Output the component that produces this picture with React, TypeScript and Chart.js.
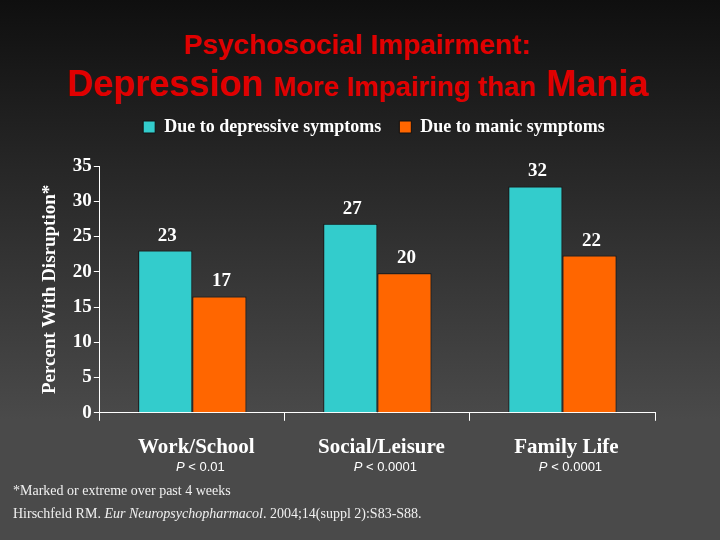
import React, { useEffect, useRef } from "react";
import { Chart, registerables } from "chart.js";

Chart.register(...registerables);

const categories = ["Work/School", "Social/Leisure", "Family Life"];
const depressive = [23, 26.8, 32.1];
const manic = [16.5, 19.8, 22.3];
const pValues = ["< 0.01", "< 0.0001", "< 0.0001"];
const seriesNames = ["Due to depressive symptoms", "Due to manic symptoms"];
const yTicks = { min: 0, max: 35, step: 5 };

const SERIF = '"Liberation Serif", "Times New Roman", serif';
const SANS = '"Liberation Sans", Arial, sans-serif';

const legendSpacer = {
  id: "legendSpacer",
  beforeLayout(chart: any) {
    const lg = chart.legend;
    if (lg && !lg._spaced) {
      const orig = lg.fit;
      lg.fit = function () {
        orig.call(this);
        this.height += 20;
      };
      lg._spaced = true;
    }
  },
  afterLayout(chart: any) {
    const lg = chart.legend;
    if (lg) {
      lg.left += 29;
      lg.right += 29;
    }
  },
};

const valueLabels = {
  id: "valueLabels",
  afterDatasetsDraw(chart: any) {
    const ctx = chart.ctx;
    ctx.save();
    ctx.font = `bold 19px ${SERIF}`;
    ctx.fillStyle = "#ffffff";
    ctx.textAlign = "center";
    ctx.textBaseline = "alphabetic";
    chart.data.datasets.forEach((ds: any, di: number) => {
      const meta = chart.getDatasetMeta(di);
      meta.data.forEach((bar: any, i: number) => {
        ctx.fillText(String(Math.round(ds.data[i])), bar.x + 2, bar.y - 10);
      });
    });
    ctx.restore();
  },
};

const pValueLabels = {
  id: "pValueLabels",
  afterDraw(chart: any) {
    const ctx = chart.ctx;
    const xs = chart.scales.x;
    const y = chart.chartArea.bottom + 55;
    ctx.save();
    ctx.fillStyle = "#ffffff";
    ctx.textBaseline = "middle";
    ctx.textAlign = "left";
    pValues.forEach((p, i) => {
      const cx = xs.getPixelForValue(i) + 8;
      ctx.font = `italic 13px ${SANS}`;
      const w1 = ctx.measureText("P").width;
      ctx.font = `13px ${SANS}`;
      const rest = " " + p;
      const w2 = ctx.measureText(rest).width;
      const start = cx - (w1 + w2) / 2;
      ctx.font = `italic 13px ${SANS}`;
      ctx.fillText("P", start, y);
      ctx.font = `13px ${SANS}`;
      ctx.fillText(rest, start + w1, y);
    });
    ctx.restore();
  },
};

export default function App() {
  const canvasRef = useRef<HTMLCanvasElement | null>(null);

  useEffect(() => {
    if (!canvasRef.current) return;
    const chart = new Chart(canvasRef.current, {
      type: "bar",
      data: {
        labels: categories,
        datasets: [
          {
            label: seriesNames[0],
            data: depressive,
            backgroundColor: "#33CCCC",
            borderColor: "#111111",
            borderWidth: 1,
          },
          {
            label: seriesNames[1],
            data: manic,
            backgroundColor: "#FF6600",
            borderColor: "#111111",
            borderWidth: 1,
          },
        ],
      },
      options: {
        responsive: false,
        animation: false,
        datasets: {
          bar: { categoryPercentage: 0.585, barPercentage: 1 },
        },
        layout: { padding: { top: 100, left: 35, right: 65, bottom: 66 } },
        plugins: {
          legend: {
            position: "top",
            labels: {
              boxWidth: 12,
              boxHeight: 12,
              padding: 18,
              color: "#ffffff",
              font: { family: SERIF, size: 18, weight: "bold" },
            },
          },
          tooltip: { enabled: false },
        },
        scales: {
          x: {
            offset: true,
            grid: {
              offset: true,
              drawOnChartArea: false,
              drawTicks: true,
              tickLength: 8,
              color: "#ffffff",
            },
            border: { color: "#ffffff", width: 1 },
            ticks: {
              color: "#ffffff",
              padding: 14,
              labelOffset: 4,
              font: { family: SERIF, size: 21, weight: "bold" },
            },
          },
          y: {
            min: yTicks.min,
            max: yTicks.max,
            ticks: {
              stepSize: yTicks.step,
              color: "#ffffff",
              padding: 2,
              font: { family: SERIF, size: 19, weight: "bold" },
            },
            grid: {
              drawOnChartArea: false,
              drawTicks: true,
              tickLength: 6,
              color: "#ffffff",
            },
            border: { color: "#ffffff", width: 1 },
            title: {
              display: true,
              text: "Percent With Disruption*",
              color: "#ffffff",
              padding: { top: 4, bottom: 9 },
              font: { family: SERIF, size: 19, weight: "bold" },
            },
          },
        },
      },
      plugins: [legendSpacer, valueLabels, pValueLabels],
    } as any);
    return () => chart.destroy();
  }, []);

  return (
    <div
      style={{
        position: "fixed",
        left: 0,
        top: 0,
        width: 720,
        height: 540,
        overflow: "hidden",
        background:
          "linear-gradient(to bottom, #0f0f0f 0px, #4a4a4a 420px, #4a4a4a 540px)",
      }}
    >
      <div
        style={{
          position: "absolute",
          left: 0,
          top: 31,
          width: 714,
          textAlign: "center",
          fontFamily: SANS,
          fontWeight: "bold",
          fontSize: 28,
          lineHeight: "28px",
          color: "#e00000",
          whiteSpace: "nowrap",
        }}
      >
        Psychosocial Impairment:
      </div>
      <div
        style={{
          position: "absolute",
          left: 0,
          top: 64,
          width: 715,
          textAlign: "center",
          fontFamily: SANS,
          fontWeight: "bold",
          fontSize: 36,
          lineHeight: "40px",
          color: "#e00000",
          whiteSpace: "nowrap",
        }}
      >
        Depression <span style={{ fontSize: 27.5 }}>More Impairing than</span> Mania
      </div>
      <canvas
        ref={canvasRef}
        width={720}
        height={540}
        style={{ position: "absolute", left: 0, top: 0, width: 720, height: 540 }}
      />
      <div
        style={{
          position: "absolute",
          left: 13,
          top: 479,
          fontFamily: SERIF,
          fontSize: 14,
          lineHeight: "23px",
          color: "#f0f0f0",
          whiteSpace: "nowrap",
        }}
      >
        <div>*Marked or extreme over past 4 weeks</div>
        <div>
          Hirschfeld RM. <i>Eur Neuropsychopharmacol</i>. 2004;14(suppl 2):S83-S88.
        </div>
      </div>
    </div>
  );
}
